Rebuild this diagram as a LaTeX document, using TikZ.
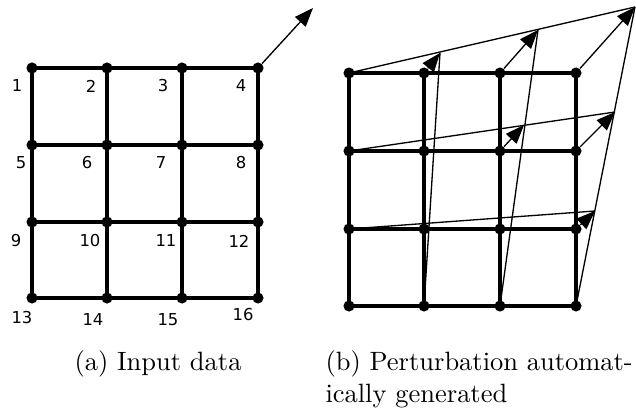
\documentclass[tikz,border=0pt]{standalone}
\usepackage{fontspec}
\newfontfamily\numfont{DejaVu Sans}
\usetikzlibrary{arrows.meta}

\begin{document}
\begin{tikzpicture}[x=0.01327cm,y=-0.01327cm,
  dot/.style={circle,fill=black,inner sep=0pt,minimum size=4.2pt},
  mesh/.style={line width=1.15pt},
  warp/.style={line width=0.5pt},
  push/.style={-{Triangle[length=2.5mm,width=1.9mm]},line width=0.5pt},
  num/.style={font=\numfont\fontsize{6.2}{7}\selectfont,inner sep=0pt},
  subcap/.style={inner sep=0pt,align=left}
]
\useasboundingbox (0,0) rectangle (636,412);

% Input mesh, vertices numbered row by row.
\foreach \y [count=\r from 0] in {68,145,222,298}
  \foreach \x [count=\c from 1] in {32,107,182,258}
  {
    \pgfmathtruncatemacro\k{4*\r+\c}
    \node[dot] (n\k) at (\x,\y) {};
  }
\foreach \a/\b in {1/4,5/8,9/12,13/16,1/13,2/14,3/15,4/16}
  \draw[mesh] (n\a.center)--(n\b.center);
\foreach \k/\x/\y in {1/17/86,2/91/86,3/163/86,4/241/86,
    5/21/163,6/87/163,7/161/163,8/241/163,
    9/16/241,10/90/241,11/166/241,12/239/241,
    13/22/318,14/93/320,15/168/320,16/243/315}
  \node[num] (lab\k) at (\x,\y) {\k};
\coordinate (lift) at (313,8);
\draw[push] (n4)--(lift);

% Same mesh with the generated perturbation.
\foreach \y [count=\r from 0] in {73,151,229,306}
  \foreach \x [count=\c from 1] in {349,424,500,576}
  {
    \pgfmathtruncatemacro\k{4*\r+\c}
    \node[dot] (m\k) at (\x,\y) {};
  }
\foreach \a/\b in {1/4,5/8,9/12,13/16,1/13,2/14,3/15,4/16}
  \draw[mesh] (m\a.center)--(m\b.center);
\coordinate (q2) at (440,53);
\coordinate (q3) at (538,30);
\coordinate (q4) at (635,7);
\coordinate (q7) at (524,125);
\coordinate (q8) at (615,112);
\coordinate (q12) at (595,211);
\foreach \a/\b in {1/4,5/8,9/12,14/2,15/3,16/4}
  \draw[warp] (m\a.center)--(q\b);
\foreach \k in {2,3,4,7,8,12}
  \draw[push] (m\k)--(q\k);

% Sub-captions.
\node[subcap,anchor=base] (capa) at (158,370) {(a) Input data};
\node[subcap,anchor=base west] (capb) at (325,402)
  {(b) Perturbation automat-\\ically generated};
\end{tikzpicture}
\end{document}
